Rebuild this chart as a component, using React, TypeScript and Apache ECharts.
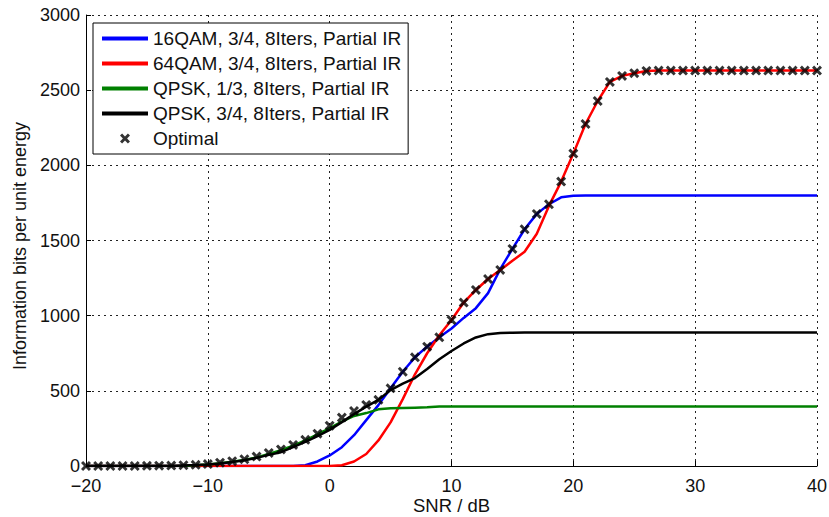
import React, { useEffect, useRef } from "react";
import * as echarts from "echarts";

const snr = [
  -20, -19, -18, -17, -16, -15, -14, -13, -12, -11, -10, -9, -8, -7, -6, -5, -4, -3, -2, -1,
  0, 1, 2, 3, 4, 5, 6, 7, 8, 9, 10, 11, 12, 13, 14, 15, 16, 17, 18, 19,
  20, 21, 22, 23, 24, 25, 26, 27, 28, 29, 30, 31, 32, 33, 34, 35, 36, 37, 38, 39, 40,
];

const qam16 = [
  0, 0, 0, 0, 0, 0, 0, 0, 0, 0, 0, 0, 0, 0, 0, 0, 0, 0, 5, 30,
  70, 125, 205, 305, 405, 517, 627, 723, 794, 856, 915, 985, 1050, 1150, 1310, 1444, 1575, 1677, 1741, 1787,
  1797, 1800, 1800, 1800, 1800, 1800, 1800, 1800, 1800, 1800, 1800, 1800, 1800, 1800, 1800, 1800, 1800, 1800, 1800, 1800, 1800,
];

const qam64 = [
  0, 0, 0, 0, 0, 0, 0, 0, 0, 0, 0, 0, 0, 0, 0, 0, 0, 0, 0, 0,
  0, 5, 30, 80, 170, 290, 445, 610, 750, 870, 971, 1087, 1171, 1244, 1304, 1365, 1425, 1545, 1730, 1892,
  2078, 2275, 2428, 2555, 2595, 2613, 2628, 2630, 2630, 2630, 2630, 2630, 2630, 2630, 2630, 2630, 2630, 2630, 2630, 2630, 2630,
];

const qpsk13 = [
  0, 0, 0, 0, 0, 0, 0, 0, 0, 5, 10, 18, 28, 40, 57, 80, 105, 135, 170, 210,
  252, 295, 333, 352, 377, 384, 386, 388, 390, 395, 395, 395, 395, 395, 395, 395, 395, 395, 395, 395,
  395, 395, 395, 395, 395, 395, 395, 395, 395, 395, 395, 395, 395, 395, 395, 395, 395, 395, 395, 395, 395,
];

const qpsk34 = [
  0, 0, 0, 0, 0, 0, 0, 0, 3, 6, 10, 17, 26, 38, 54, 74, 92, 125, 160, 198,
  240, 292, 345, 395, 440, 505, 548, 585, 645, 710, 765, 815, 855, 877, 885, 887, 888, 888, 888, 888,
  888, 888, 888, 888, 888, 888, 888, 888, 888, 888, 888, 888, 888, 888, 888, 888, 888, 888, 888, 888, 888,
];

const optimal = [
  0, 0, 0, 0, 0, 1, 2, 3, 5, 8, 13, 22, 32, 45, 63, 87, 110, 140, 174, 215,
  268, 322, 366, 406, 440, 517, 627, 723, 794, 856, 971, 1087, 1171, 1244, 1304, 1444, 1575, 1677, 1741, 1892,
  2078, 2275, 2428, 2555, 2595, 2613, 2628, 2630, 2630, 2630, 2630, 2630, 2630, 2630, 2630, 2630, 2630, 2630, 2630, 2630, 2630,
];

const seriesNames = [
  "16QAM, 3/4, 8Iters, Partial IR",
  "64QAM, 3/4, 8Iters, Partial IR",
  "QPSK, 1/3, 8Iters, Partial IR",
  "QPSK, 3/4, 8Iters, Partial IR",
  "Optimal",
];

const xMark =
  "path://M0,2.1 L2.1,0 L5,2.9 L7.9,0 L10,2.1 L7.1,5 L10,7.9 L7.9,10 L5,7.1 L2.1,10 L0,7.9 L2.9,5 Z";
const xMarkLegend =
  "path://M0,0 M19,19 M4.5,6.6 L6.6,4.5 L9.5,7.4 L12.4,4.5 L14.5,6.6 L11.6,9.5 L14.5,12.4 L12.4,14.5 L9.5,11.6 L6.6,14.5 L4.5,12.4 L7.4,9.5 Z";
const lineIcon = "path://M0,0 M46,19 M0,7.5 L46,7.5 L46,11.5 L0,11.5 Z";

const FONT = "'Liberation Sans', Arial, sans-serif";

function pairs(ys: number[]) {
  return snr.map((x, i) => [x, ys[i]]);
}

export default function App() {
  const ref = useRef<HTMLDivElement>(null);
  useEffect(() => {
    document.body.style.margin = "0";
    const chart = echarts.init(ref.current!, null, { renderer: "svg" });
    const lineSeries = (name: string, ys: number[], color: string) => ({
      name,
      type: "line",
      data: pairs(ys),
      symbol: "none",
      showSymbol: false,
      lineStyle: { color, width: 2.5 },
      itemStyle: { color },
    });
    chart.setOption({
      animation: false,
      backgroundColor: "#ffffff",
      textStyle: { fontFamily: FONT },
      grid: { left: 86, right: 12, top: 15, bottom: 51, containLabel: false, outerBoundsMode: "none" },
      legend: {
        orient: "vertical",
        left: 93,
        top: 23,
        padding: [6, 7, 6, 9],
        itemWidth: 46,
        itemHeight: 19,
        itemGap: 6,
        backgroundColor: "#ffffff",
        borderColor: "#000000",
        borderWidth: 1,
        borderRadius: 0,
        textStyle: { fontSize: 19, color: "#111", fontFamily: FONT },
        data: [
          { name: seriesNames[0], icon: lineIcon },
          { name: seriesNames[1], icon: lineIcon },
          { name: seriesNames[2], icon: lineIcon },
          { name: seriesNames[3], icon: lineIcon },
          { name: seriesNames[4], icon: xMarkLegend },
        ],
      },
      xAxis: {
        type: "value",
        min: -20,
        max: 40,
        interval: 10,
        name: "SNR / dB",
        nameLocation: "middle",
        nameGap: 30,
        nameMoveOverlap: false,
        nameTextStyle: { fontSize: 18.5, color: "#111", fontFamily: FONT },
        axisLine: { show: true, onZero: false, lineStyle: { color: "#000", width: 1 } },
        axisTick: { show: true, inside: true, length: 5, lineStyle: { color: "#000" } },
        axisLabel: {
          fontSize: 18,
          color: "#111",
          margin: 11,
          formatter: (v: number) => String(v).replace("-", "\u2212"),
        },
        splitLine: { show: true, lineStyle: { color: "#222", type: [2, 4], width: 1 } },
      },
      yAxis: {
        type: "value",
        min: 0,
        max: 3000,
        interval: 500,
        name: "Information bits per unit energy",
        nameLocation: "middle",
        nameGap: 57,
        nameMoveOverlap: false,
        nameTextStyle: { fontSize: 18, color: "#111", fontFamily: FONT, padding: [0, 11, 0, 0] },
        axisLine: { show: true, onZero: false, lineStyle: { color: "#000", width: 1 } },
        axisTick: { show: true, inside: true, length: 5, lineStyle: { color: "#000" } },
        axisLabel: { fontSize: 18, color: "#111", margin: 6, formatter: (v: number) => String(v) },
        splitLine: { show: true, lineStyle: { color: "#222", type: [2, 4], width: 1 } },
      },
      series: [
        lineSeries(seriesNames[0], qam16, "#0000ff"),
        lineSeries(seriesNames[1], qam64, "#ff0000"),
        lineSeries(seriesNames[2], qpsk13, "#008000"),
        lineSeries(seriesNames[3], qpsk34, "#000000"),
        {
          name: seriesNames[4],
          type: "scatter",
          data: pairs(optimal),
          symbol: xMark,
          symbolSize: 10,
          itemStyle: { color: "#000000" },
          z: 5,
        },
      ],
    });
    return () => chart.dispose();
  }, []);
  return <div ref={ref} style={{ width: 829, height: 517 }} />;
}
